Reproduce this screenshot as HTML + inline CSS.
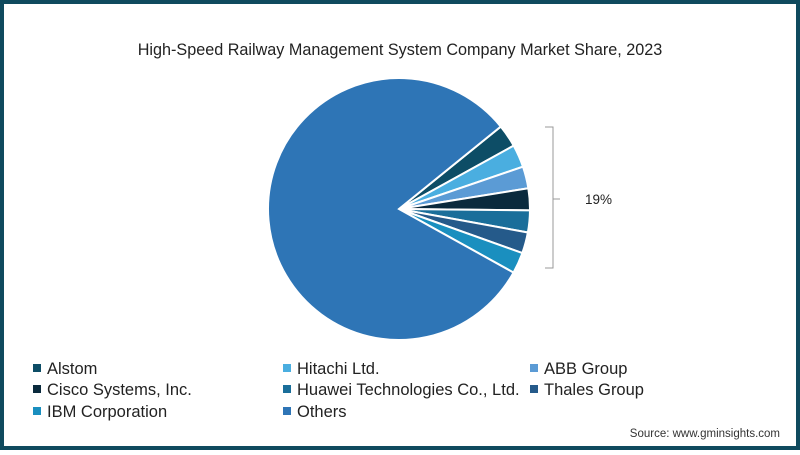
<!DOCTYPE html>
<html><head><meta charset="utf-8"><style>
body{margin:0;width:800px;height:450px;overflow:hidden;background:#fff;font-family:"Liberation Sans",sans-serif}
</style></head><body>
<svg width="800" height="450">
<rect x="2" y="2" width="796" height="446" fill="#fff" stroke="#0f4a5e" stroke-width="4"/>
<text x="400" y="55" text-anchor="middle" font-size="16.2" fill="#222">High-Speed Railway Management System Company Market Share, 2023</text>
<g id="pie"></g>
<path d="M545 127 H553 V268 H545 M553 199 H560" fill="none" stroke="#999" stroke-width="1"/>
<text x="585" y="204" font-size="13.5" fill="#222">19%</text>
<g id="legend"></g>
<text x="780" y="437" text-anchor="end" font-size="11.5" fill="#333">Source: www.gminsights.com</text>
</svg>
<script>
const categories=["Alstom","Hitachi Ltd.","ABB Group","Cisco Systems, Inc.","Huawei Technologies Co., Ltd.","Thales Group","IBM Corporation","Others"];
const shares=[2.8,2.8,2.7,2.7,2.7,2.6,2.6,81.1];
const colors=["#0d4d66","#4aaee0","#5b9bd5","#0a2a3d","#1a6e9a","#255a8a","#1a8fbf","#2e75b6"];
const NS="http://www.w3.org/2000/svg";
const cx=399,cy=209,r=131,start=-39;
const pie=document.getElementById('pie');
const total=shares.reduce((a,b)=>a+b,0);
let a=start;
shares.forEach((v,i)=>{
  const sweep=v/total*360;
  const a0=a*Math.PI/180,a1=(a+sweep)*Math.PI/180;
  const x0=cx+r*Math.cos(a0),y0=cy+r*Math.sin(a0),x1=cx+r*Math.cos(a1),y1=cy+r*Math.sin(a1);
  const p=document.createElementNS(NS,'path');
  p.setAttribute('d',`M${cx} ${cy} L${x0} ${y0} A${r} ${r} 0 ${sweep>180?1:0} 1 ${x1} ${y1} Z`);
  p.setAttribute('fill',colors[i]);p.setAttribute('stroke','#fff');p.setAttribute('stroke-width','2');
  
  
  pie.appendChild(p);
  a+=sweep;
});
const lg=document.getElementById('legend');
const colX=[33,283,530],rowY=[368,389,411];
categories.forEach((c,i)=>{
  const g=document.createElementNS(NS,'g');
  
  
  const x=colX[i%3],y=rowY[Math.floor(i/3)];
  const s=document.createElementNS(NS,'rect');
  s.setAttribute('x',x);s.setAttribute('y',y-4);s.setAttribute('width',8);s.setAttribute('height',8);s.setAttribute('fill',colors[i]);
  const t=document.createElementNS(NS,'text');
  t.setAttribute('x',x+14);t.setAttribute('y',y+6);t.setAttribute('font-size','16.5');t.setAttribute('fill','#222');
  t.textContent=c;
  g.appendChild(s);g.appendChild(t);lg.appendChild(g);
});
</script>
</body></html>
